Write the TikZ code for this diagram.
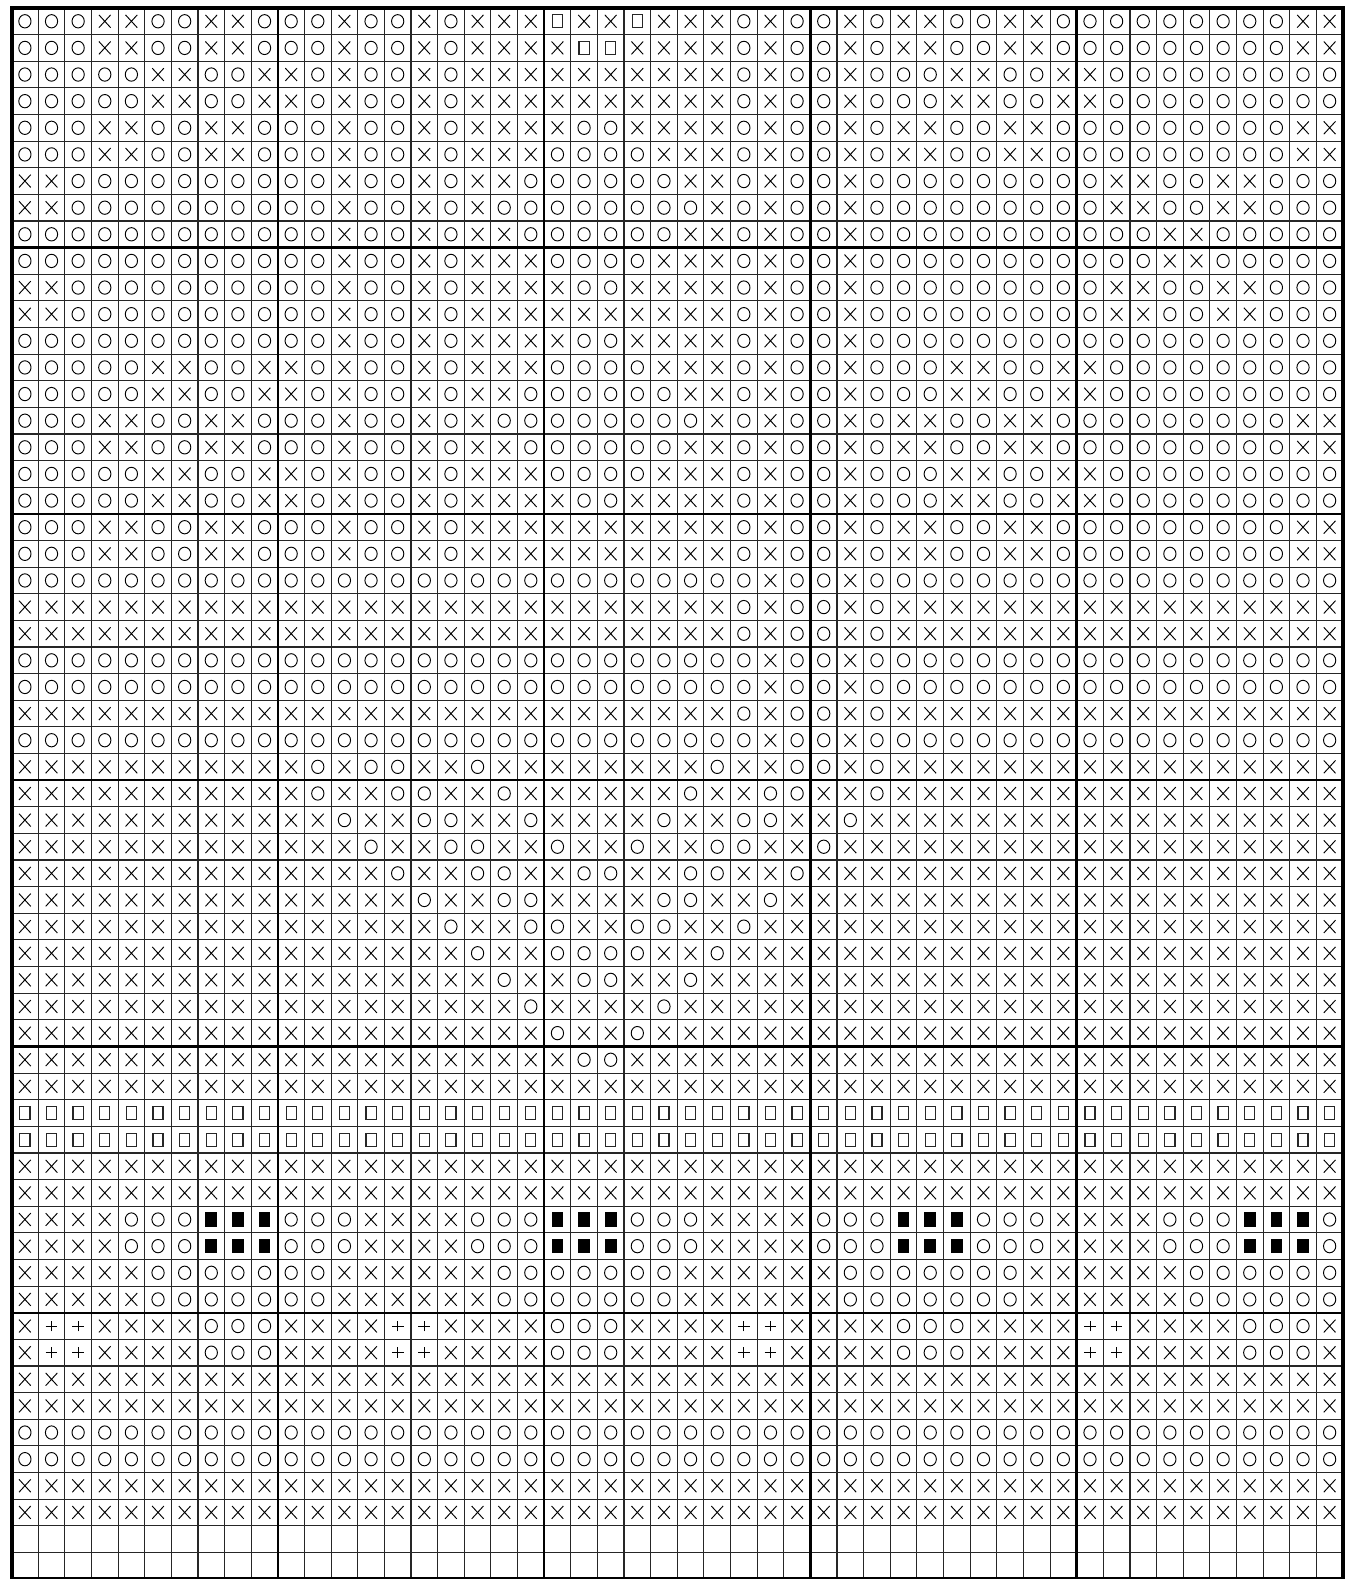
\documentclass[tikz,border=0pt]{standalone}
\usepackage{tikz}

% chart symbols, one pic per key letter
\tikzset{
  symline/.style={line width=0.5pt},
  cello/.pic={\draw[symline] (0,0) ellipse[x radius=0.23, y radius=0.25];},
  cellx/.pic={\draw[symline] (-0.22,-0.24) -- (0.22,0.24) (-0.22,0.24) -- (0.22,-0.24);},
  cells/.pic={\draw[line width=0.65pt, black!85] (-0.19,-0.245) rectangle (0.19,0.245);},
  cellb/.pic={\fill (-0.22,-0.27) rectangle (0.22,0.27);},
  cellp/.pic={\draw[symline] (-0.22,0) -- (0.22,0) (0,-0.2) -- (0,0.2);},
  thingrid/.style={line width=0.6pt, black!85, step=0.5cm},
  blockline/.style={line width=1.3pt},
  frame/.style={line width=2.1pt}
}

% one chart row, top to bottom, one letter per stitch
\makeatletter
\newcommand\chartrow[1]{\pgfmathsetmacro\chart@y{\chart@y-1}\def\chart@c{0}\chart@next#1\@nil}
\def\chart@next#1{\ifx#1\@nil\expandafter\@gobble\else\expandafter\@firstofone\fi{\chart@cell#1\chart@next}}
\def\chart@cell#1{\pgfmathtruncatemacro\chart@c{\chart@c+1}\pic at (\chart@c-0.5,\chart@y) {cell#1};}
\def\chart@y{59.5}
\makeatother

\begin{document}
\begin{tikzpicture}[x=0.5cm, y=0.5cm]
  \useasboundingbox (-0.435,0) rectangle (50.4,59.3);
  \fill[white] (-0.435,0) rectangle (50.4,59.3);

  % grid
  \draw[thingrid] (0,0) grid (50,59);
  \foreach \x in {10,20,30,40}
    \draw[blockline] (\x,0) -- (\x,59);
  \foreach \y in {10,20,30,40,50}
    \draw[blockline] (0,\y) -- (50,\y);
  \draw[frame] (0,0) rectangle (50,59);

  % rows 1-9
  \chartrow{oooxxooxxo ooxooxoxxx sxxsxxxoxo oxoxxooxxo ooooooooxx}
  \chartrow{oooxxooxxo ooxooxoxxx xssxxxxoxo oxoxxooxxo ooooooooxx}
  \chartrow{oooooxxoox xoxooxoxxx xxxxxxxoxo oxoooxxoox xooooooooo}
  \chartrow{oooooxxoox xoxooxoxxx xxxxxxxoxo oxoooxxoox xooooooooo}
  \chartrow{oooxxooxxo ooxooxoxxx xooxxxxoxo oxoxxooxxo ooooooooxx}
  \chartrow{oooxxooxxo ooxooxoxxx ooooxxxoxo oxoxxooxxo ooooooooxx}
  \chartrow{xxoooooooo ooxooxoxxo oooooxxoxo oxoooooooo oxxooxxooo}
  \chartrow{xxoooooooo ooxooxoxoo ooooooxoxo oxoooooooo oxxooxxooo}
  \chartrow{oooooooooo ooxooxoxxo oooooxxoxo oxoooooooo oooxxooooo}
  % rows 10-19
  \chartrow{oooooooooo ooxooxoxxx ooooxxxoxo oxoooooooo oooxxooooo}
  \chartrow{xxoooooooo ooxooxoxxx xooxxxxoxo oxoooooooo oxxooxxooo}
  \chartrow{xxoooooooo ooxooxoxxx xxxxxxxoxo oxoooooooo oxxooxxooo}
  \chartrow{oooooooooo ooxooxoxxx xooxxxxoxo oxoooooooo oooooooooo}
  \chartrow{oooooxxoox xoxooxoxxx ooooxxxoxo oxoooxxoox xooooooooo}
  \chartrow{oooooxxoox xoxooxoxxo oooooxxoxo oxoooxxoox xooooooooo}
  \chartrow{oooxxooxxo ooxooxoxoo ooooooxoxo oxoxxooxxo ooooooooxx}
  \chartrow{oooxxooxxo ooxooxoxxo oooooxxoxo oxoxxooxxo ooooooooxx}
  \chartrow{oooooxxoox xoxooxoxxx ooooxxxoxo oxoooxxoox xooooooooo}
  \chartrow{oooooxxoox xoxooxoxxx xooxxxxoxo oxoooxxoox xooooooooo}
  % rows 20-29
  \chartrow{oooxxooxxo ooxooxoxxx xxxxxxxoxo oxoxxooxxo ooooooooxx}
  \chartrow{oooxxooxxo ooxooxoxxx xxxxxxxoxo oxoxxooxxo ooooooooxx}
  \chartrow{oooooooooo oooooooooo ooooooooxo oxoooooooo oooooooooo}
  \chartrow{xxxxxxxxxx xxxxxxxxxx xxxxxxxoxo oxoxxxxxxx xxxxxxxxxx}
  \chartrow{xxxxxxxxxx xxxxxxxxxx xxxxxxxoxo oxoxxxxxxx xxxxxxxxxx}
  \chartrow{oooooooooo oooooooooo ooooooooxo oxoooooooo oooooooooo}
  \chartrow{oooooooooo oooooooooo ooooooooxo oxoooooooo oooooooooo}
  \chartrow{xxxxxxxxxx xxxxxxxxxx xxxxxxxoxo oxoxxxxxxx xxxxxxxxxx}
  \chartrow{oooooooooo oooooooooo ooooooooxo oxoooooooo oooooooooo}
  \chartrow{xxxxxxxxxx xoxooxxoxx xxxxxxoxxo oxoxxxxxxx xxxxxxxxxx}
  % rows 30-39
  \chartrow{xxxxxxxxxx xoxxooxxox xxxxxoxxoo xxoxxxxxxx xxxxxxxxxx}
  \chartrow{xxxxxxxxxx xxoxxooxxo xxxxoxxoox xoxxxxxxxx xxxxxxxxxx}
  \chartrow{xxxxxxxxxx xxxoxxooxx oxxoxxooxx oxxxxxxxxx xxxxxxxxxx}
  \chartrow{xxxxxxxxxx xxxxoxxoox xooxxooxxo xxxxxxxxxx xxxxxxxxxx}
  \chartrow{xxxxxxxxxx xxxxxoxxoo xxxxooxxox xxxxxxxxxx xxxxxxxxxx}
  \chartrow{xxxxxxxxxx xxxxxxoxxo oxxooxxoxx xxxxxxxxxx xxxxxxxxxx}
  \chartrow{xxxxxxxxxx xxxxxxxoxx ooooxxoxxx xxxxxxxxxx xxxxxxxxxx}
  \chartrow{xxxxxxxxxx xxxxxxxxox xooxxoxxxx xxxxxxxxxx xxxxxxxxxx}
  \chartrow{xxxxxxxxxx xxxxxxxxxo xxxxoxxxxx xxxxxxxxxx xxxxxxxxxx}
  \chartrow{xxxxxxxxxx xxxxxxxxxx oxxoxxxxxx xxxxxxxxxx xxxxxxxxxx}
  % rows 40-49
  \chartrow{xxxxxxxxxx xxxxxxxxxx xooxxxxxxx xxxxxxxxxx xxxxxxxxxx}
  \chartrow{xxxxxxxxxx xxxxxxxxxx xxxxxxxxxx xxxxxxxxxx xxxxxxxxxx}
  \chartrow{ssssssssss ssssssssss ssssssssss ssssssssss ssssssssss}
  \chartrow{ssssssssss ssssssssss ssssssssss ssssssssss ssssssssss}
  \chartrow{xxxxxxxxxx xxxxxxxxxx xxxxxxxxxx xxxxxxxxxx xxxxxxxxxx}
  \chartrow{xxxxxxxxxx xxxxxxxxxx xxxxxxxxxx xxxxxxxxxx xxxxxxxxxx}
  \chartrow{xxxxooobbb oooxxxxooo bbboooxxxx ooobbbooox xxxooobbbo}
  \chartrow{xxxxooobbb oooxxxxooo bbboooxxxx ooobbbooox xxxooobbbo}
  \chartrow{xxxxxooooo ooxxxxxxoo oooooxxxxx xoooooooxx xxxxoooooo}
  \chartrow{xxxxxooooo ooxxxxxxoo oooooxxxxx xoooooooxx xxxxoooooo}
  % rows 50-57, last two rows left blank
  \chartrow{xppxxxxooo xxxxppxxxx oooxxxxppx xxxoooxxxx ppxxxxooox}
  \chartrow{xppxxxxooo xxxxppxxxx oooxxxxppx xxxoooxxxx ppxxxxooox}
  \chartrow{xxxxxxxxxx xxxxxxxxxx xxxxxxxxxx xxxxxxxxxx xxxxxxxxxx}
  \chartrow{xxxxxxxxxx xxxxxxxxxx xxxxxxxxxx xxxxxxxxxx xxxxxxxxxx}
  \chartrow{oooooooooo oooooooooo oooooooooo oooooooooo oooooooooo}
  \chartrow{oooooooooo oooooooooo oooooooooo oooooooooo oooooooooo}
  \chartrow{xxxxxxxxxx xxxxxxxxxx xxxxxxxxxx xxxxxxxxxx xxxxxxxxxx}
  \chartrow{xxxxxxxxxx xxxxxxxxxx xxxxxxxxxx xxxxxxxxxx xxxxxxxxxx}
\end{tikzpicture}
\end{document}
